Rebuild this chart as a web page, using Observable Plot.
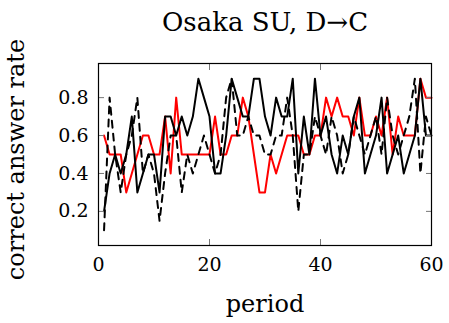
<!DOCTYPE html>
<html>
<head>
<meta charset="utf-8">
<script src="https://cdn.jsdelivr.net/npm/d3@7"></script>
<script src="https://cdn.jsdelivr.net/npm/@observablehq/plot@0.6"></script>
<style>
  html, body { margin: 0; padding: 0; background: white; }
  svg { display: block; }
</style>
</head>
<body>
<div id="chart"></div>
<script>
const titleText = "Osaka SU, D→C";
const xLabel = "period";
const yLabel = "correct answer rate";
const xTicks = [0, 20, 40, 60];
const yTicks = [0.2, 0.4, 0.6, 0.8];

const period = [1,2,3,4,5,6,7,8,9,10,11,12,13,14,15,16,17,18,19,20,
  21,22,23,24,25,26,27,28,29,30,31,32,33,34,35,36,37,38,39,40,
  41,42,43,44,45,46,47,48,49,50,51,52,53,54,55,56,57,58,59,60];

const redRate = [0.6,0.5,0.5,0.5,0.3,0.4,0.5,0.6,0.6,0.5,
  0.5,0.7,0.4,0.8,0.5,0.5,0.5,0.5,0.5,0.5,
  0.7,0.5,0.5,0.6,0.6,0.8,0.7,0.5,0.3,0.3,
  0.5,0.4,0.5,0.6,0.6,0.6,0.5,0.5,0.6,0.6,
  0.8,0.7,0.8,0.7,0.7,0.6,0.8,0.6,0.6,0.7,
  0.6,0.8,0.5,0.7,0.6,0.6,0.6,0.9,0.8,0.8];

const blackRate = [0.2,0.4,0.5,0.4,0.5,0.7,0.3,0.4,0.5,0.5,
  0.3,0.7,0.7,0.6,0.7,0.6,0.7,0.9,0.8,0.7,
  0.4,0.4,0.6,0.9,0.8,0.7,0.7,0.9,0.9,0.7,
  0.6,0.8,0.7,0.7,0.9,0.4,0.7,0.5,0.9,0.6,
  0.7,0.5,0.4,0.6,0.5,0.7,0.8,0.4,0.5,0.6,
  0.8,0.4,0.5,0.6,0.4,0.5,0.6,0.9,0.6,0.6];

const dashedRate = [0.1,0.8,0.5,0.3,0.5,0.6,0.8,0.4,0.5,0.4,
  0.15,0.4,0.6,0.6,0.3,0.5,0.4,0.5,0.6,0.5,
  0.4,0.5,0.8,0.9,0.6,0.6,0.7,0.6,0.6,0.5,
  0.5,0.6,0.6,0.8,0.6,0.2,0.5,0.5,0.7,0.6,
  0.5,0.7,0.6,0.4,0.5,0.7,0.6,0.5,0.6,0.7,
  0.5,0.8,0.6,0.5,0.6,0.7,0.9,0.4,0.7,0.6];

const toRows = (vals) => period.map((p, i) => ({period: p, rate: vals[i]}));
const redRows = toRows(redRate);
const blackRows = toRows(blackRate);
const dashedRows = toRows(dashedRate);

const font = "'DejaVu Serif', 'Liberation Serif', serif";

const chart = Plot.plot({
  width: 449,
  height: 323,
  marginLeft: 98,
  marginRight: 18,
  marginTop: 63,
  marginBottom: 78,
  style: {fontFamily: font, fontSize: "19px", background: "white", color: "black", overflow: "visible"},
  x: {domain: [0, 60], label: null},
  y: {domain: [0.02, 0.98], label: null},
  marks: [
    Plot.line(redRows, {x: "period", y: "rate", stroke: "#ff0000", strokeWidth: 2}),
    Plot.line(dashedRows, {x: "period", y: "rate", stroke: "black", strokeWidth: 2, strokeDasharray: "7,6"}),
    Plot.line(blackRows, {x: "period", y: "rate", stroke: "black", strokeWidth: 2}),
    Plot.axisX({anchor: "bottom", ticks: xTicks, tickSize: -6, tickPadding: 18, stroke: "#777", fontSize: 19, fontFamily: font, fill: "black"}),
    Plot.axisX({anchor: "top", ticks: xTicks, tickSize: -6, tickFormat: () => "", stroke: "#777"}),
    Plot.axisY({anchor: "left", ticks: yTicks, tickSize: -6, tickPadding: 16, stroke: "#777", fontSize: 19, fontFamily: font, fill: "black"}),
    Plot.axisY({anchor: "right", ticks: yTicks, tickSize: -6, tickFormat: () => "", stroke: "#777"}),
    Plot.frame({stroke: "black", strokeWidth: 1.2}),
    Plot.text([titleText], {frameAnchor: "top", dy: -51, fontSize: 26, fontFamily: font}),
    Plot.text([xLabel], {frameAnchor: "bottom", dy: 66, fontSize: 24, fontFamily: font}),
    Plot.text([yLabel], {frameAnchor: "left", textAnchor: "middle", dx: -82, dy: 5, rotate: -90, fontSize: 24, fontFamily: font})
  ]
});
document.getElementById("chart").appendChild(chart);
</script>
</body>
</html>
